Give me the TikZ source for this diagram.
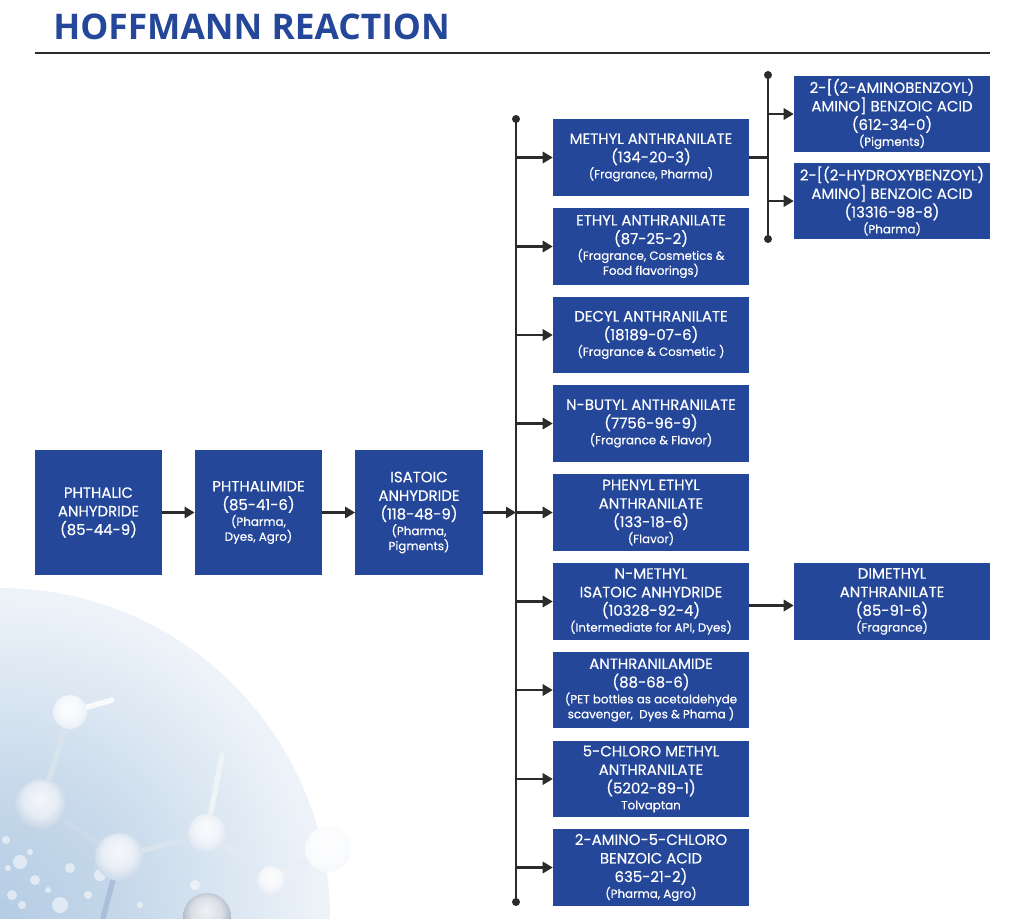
\documentclass[tikz,border=0pt]{standalone}
\usepackage{fontspec}
\setmainfont{Poppins}[FakeBold=0.35]
\newfontfamily\headfont{Open Sans}
\usetikzlibrary{arrows.meta}
\usetikzlibrary{calc}
\definecolor{boxblue}{HTML}{25479A}
\definecolor{linedark}{HTML}{2B2B2B}
\definecolor{hazeblue}{HTML}{B4CCE4}
\definecolor{ballblue}{HTML}{A9C0DA}
\colorlet{ballrim}{ballblue}
\pgfdeclareradialshading[hazeblue]{haze}{\pgfpointorigin}{color(0bp)=(hazeblue); color(10bp)=(hazeblue!75!white); color(24bp)=(hazeblue!25!white); color(50bp)=(white)}
\pgfdeclareradialshading[ballrim]{sphere}{\pgfpoint{-1bp}{7bp}}{color(0bp)=(ballrim!12!white); color(16bp)=(ballrim!30!white); color(26bp)=(ballrim!65!white); color(33bp)=(ballrim); color(50bp)=(ballrim)}
\newcommand{\subfont}{\fontsize{8.9}{11}\selectfont}
\newcommand{\subline}[1]{\\[-2pt]{\subfont #1}}
\newcommand{\subnext}[1]{\\[-2.7pt]{\subfont #1}}
\tikzset{prodbox/.style={fill=boxblue, text=white, align=center, inner sep=0pt,
    minimum width=147pt, minimum height=57.4pt,
    font=\fontsize{11.2}{13.9}\selectfont}}
\tikzset{midbox/.style={prodbox, execute at begin node={\rule{0pt}{12pt}}}}
\tikzset{startbox/.style={prodbox, minimum width=95.5pt, minimum height=93.75pt}}
\tikzset{flow/.style={linedark, line width=1.6pt, -{Triangle[length=7.5pt,width=8.5pt]}}}
\tikzset{busline/.style={linedark, line width=1.6pt}}
\tikzset{rod/.style={line width=4pt, line cap=round}}
\begin{document}
\begin{tikzpicture}[x=0.75pt, y=-0.75pt]
    \useasboundingbox (0,0) rectangle (1024,918);
    %Background
    \begin{scope}
      \clip (0,0) rectangle (1024,918);
      \shade [shading=haze] (0,918) circle (330);
      \foreach \px/\py/\pr in {20/862/7, 35/880/5, 60/905/8, 12/895/5, 88/895/4, 30/852/3, 70/868/5, 8/868/3, 195/885/5, 140/905/3, 22/905/4, 48/890/3, 100/875/6, 6/840/4} {
        \fill [white, opacity=0.55] (\px,\py) circle (\pr);
      }
      %Molecule
      \draw [rod, ballblue!45!white] (41,805) -- (70,712);
      \draw [rod, ballblue!60!white] (41,805) -- (119,857);
      \draw [rod, ballblue!45!white] (119,857) -- (207,833);
      \draw [rod, ballblue!35!white] (207,833) -- (271,880);
      \draw [rod, ballblue!25!white] (271,880) -- (328,849);
      \draw [rod, ballblue!20!white] (207,833) -- (222,755);
      \draw [rod, ballblue] (119,857) -- (103,918);
      \draw [rod, ballblue!8!white] (70,712) -- (112,700);
      \foreach \bx/\by/\br/\bc in {70/712/17/35, 41/805/26/100, 119/857/24/85, 207/833/19/55, 271/880/14/35, 328/849/23/15, 207/917/24/170} {
        \colorlet{ballrim}{ballblue!\bc!white}
        \ifnum\bc>100 \colorlet{ballrim}{ballblue!60!black!60!ballblue}\fi
        \shade [shading=sphere] (\bx,\by) circle (\br);
      }
    \end{scope}
    %Title
    \node [anchor=base west, inner sep=0pt, text=boxblue, font=\headfont\bfseries\fontsize{26.5}{30}\selectfont] (title) at (53,39) {HOFFMANN REACTION};
    \coordinate (ruleleft) at (35,53);
    \coordinate (ruleright) at (990,53);
    \draw [linedark, line width=0.9pt] (ruleleft) -- (ruleright);
    %First row
    \node [startbox] (phthalic) at (98.5,512.5) {PHTHALIC\\ANHYDRIDE\\(85-44-9)};
    \node [startbox] (phthalimide) at (258.5,512.5) {PHTHALIMIDE\\(85-41-6)\subline{(Pharma,}\subnext{Dyes, Agro)}};
    \node [startbox] (isatoic) at (419,512.5) {ISATOIC\\ANHYDRIDE\\(118-48-9)\subline{(Pharma,}\subnext{Pigments)}};
    %Anthranilates
    \node [midbox] (methyl) at (651,157.5) {METHYL ANTHRANILATE\\(134-20-3)\subline{(Fragrance, Pharma)}};
    \node [midbox] (ethyl) at (651,246.5) {ETHYL ANTHRANILATE\\(87-25-2)\subline{(Fragrance, Cosmetics \&}\subnext{Food flavorings)}};
    \node [midbox] (decyl) at (651,335) {DECYL ANTHRANILATE\\(18189-07-6)\subline{(Fragrance \& Cosmetic )}};
    \node [midbox] (butyl) at (651,423.5) {N-BUTYL ANTHRANILATE\\(7756-96-9)\subline{(Fragrance \& Flavor)}};
    \node [midbox] (phenyl) at (651,512.5) {PHENYL ETHYL\\ANTHRANILATE\\(133-18-6)\subline{(Flavor)}};
    \node [midbox] (nmethyl) at (651,601.5) {N-METHYL\\ISATOIC ANHYDRIDE\\(10328-92-4)\subline{(Intermediate for API, Dyes)}};
    \node [midbox] (amide) at (651,690) {ANTHRANILAMIDE\\(88-68-6)\subline{(PET bottles as acetaldehyde}\subnext{scavenger,\ \ Dyes \& Phama )}};
    \node [midbox] (chloro) at (651,779) {5-CHLORO METHYL\\ANTHRANILATE\\(5202-89-1)\subline{Tolvaptan}};
    \node [midbox] (benzoic) at (651,867.5) {2-AMINO-5-CHLORO\\BENZOIC ACID\\635-21-2)\subline{(Pharma, Agro)}};
    %Right column
    \node [prodbox] (amino) at (892,114) {2-[(2-AMINOBENZOYL)\\AMINO] BENZOIC ACID\\(612-34-0)\subline{(Pigments)}};
    \node [prodbox] (hydroxy) at (892,201) {2-[(2-HYDROXYBENZOYL)\\AMINO] BENZOIC ACID\\(13316-98-8)\subline{(Pharma)}};
    \node [prodbox] (dimethyl) at (892,601.5) {DIMETHYL\\ANTHRANILATE\\(85-91-6)\subline{(Fragrance)}};
    %Buses
    \coordinate (bustop) at (516,119);
    \coordinate (busbottom) at (516,902);
    \coordinate (forktop) at (768,75);
    \coordinate (forkbottom) at (768,239);
    \draw [busline] (bustop) -- (busbottom);
    \draw [busline] (forktop) -- (forkbottom);
    \fill [linedark] (bustop) circle (4);
    \fill [linedark] (busbottom) circle (4);
    \fill [linedark] (forktop) circle (4);
    \fill [linedark] (forkbottom) circle (4);
    %Arrows
    \draw [flow] (phthalic) -- (phthalimide);
    \draw [flow] (phthalimide) -- (isatoic);
    \draw [flow] (isatoic) -- (bustop |- isatoic);
    \foreach \prod in {methyl, ethyl, decyl, butyl, phenyl, nmethyl, amide, chloro, benzoic} {
      \draw [flow] (bustop |- \prod) -- (\prod);
    }
    \draw [busline] (methyl) -- (forktop |- methyl);
    \draw [flow] (forktop |- amino) -- (amino);
    \draw [flow] (forktop |- hydroxy) -- (hydroxy);
    \draw [flow] ($(nmethyl.east)+(0,4)$) -- ($(dimethyl.west)+(0,4)$);
\end{tikzpicture}
\end{document}
